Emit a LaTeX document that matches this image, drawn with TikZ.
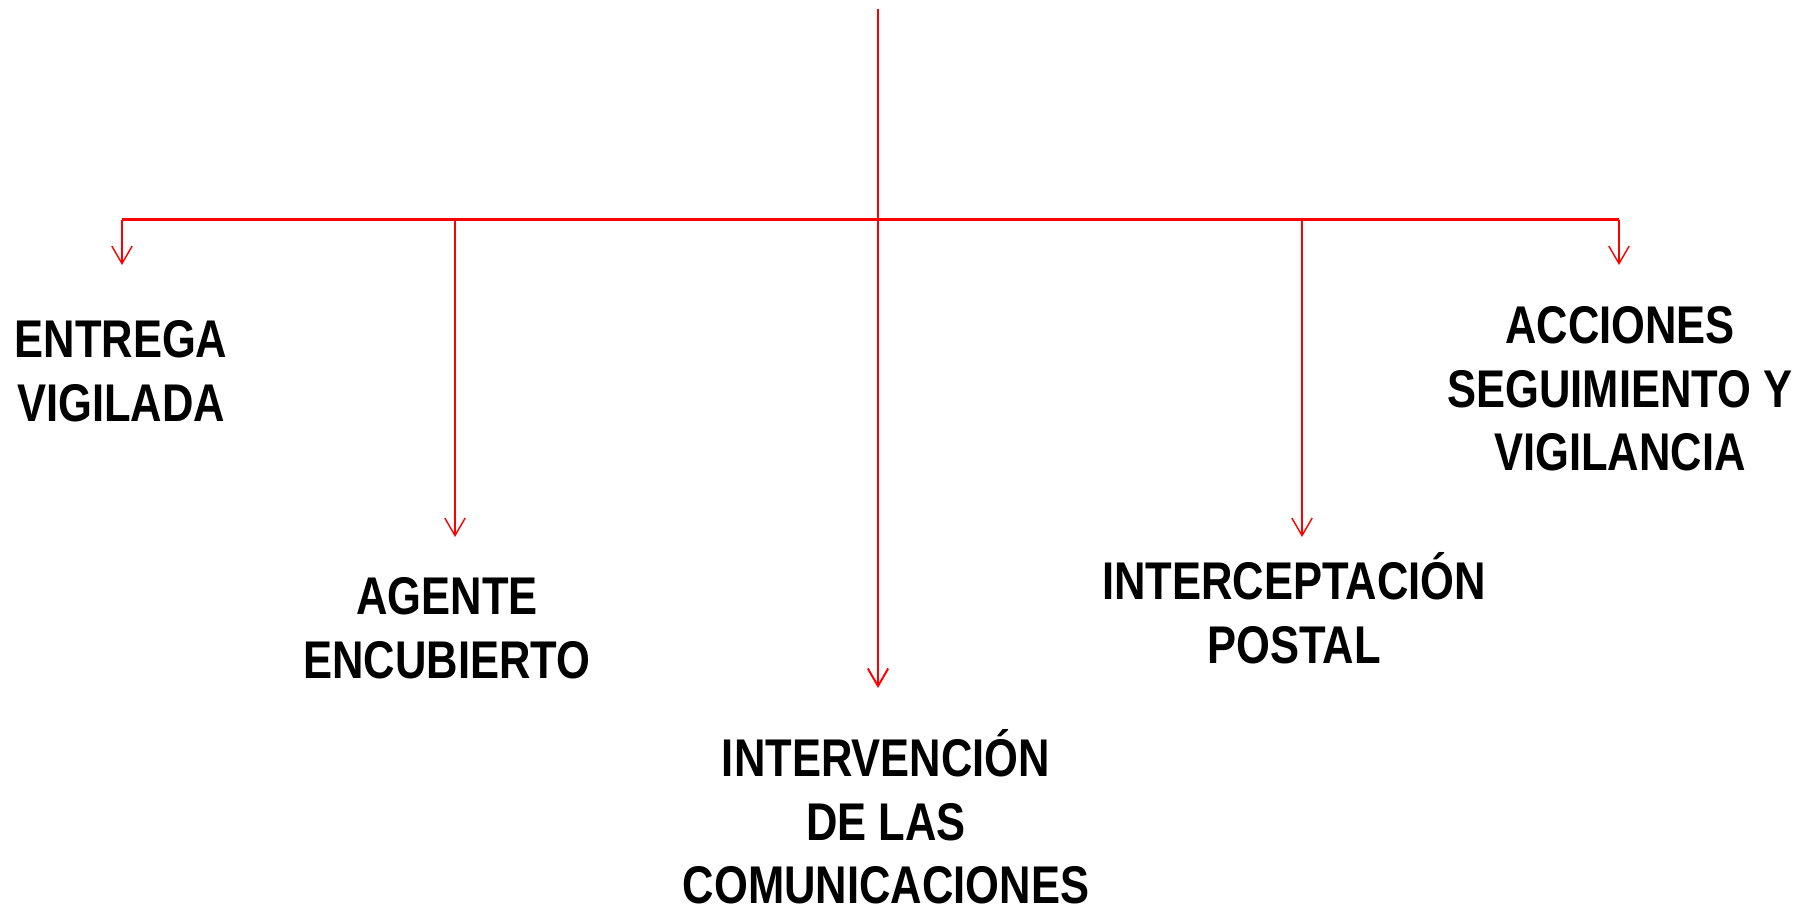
\documentclass[tikz,border=0pt]{standalone}
\usepackage{fontspec}
\setmainfont{Liberation Sans}[FakeStretch=0.82]
\usepackage{tikz}
\usetikzlibrary{arrows.meta}

\begin{document}
\begin{tikzpicture}[
  txt/.style={anchor=north, align=center, inner sep=0pt, font={\fontsize{15.1pt}{18.1pt}\selectfont\bfseries}},
  flecha/.style={draw=red, line width=0.4pt, -{Straight Barb[length=5pt,width=5.8pt]}}]
\useasboundingbox (0,0) rectangle (18.13,9.13);
\coordinate (top) at (8.78,9.04);
\coordinate (cruce) at (8.78,6.93);
\coordinate (izq) at (1.22,6.93);
\coordinate (der) at (16.19,6.93);
\coordinate (b1) at (4.55,6.93);
\coordinate (b2) at (13.02,6.93);
\coordinate (p0) at (1.22,6.48);
\coordinate (p1) at (4.55,3.76);
\coordinate (p2) at (8.78,2.25);
\coordinate (p3) at (13.02,3.76);
\coordinate (p4) at (16.19,6.48);

\node[txt] (entrega) at (1.21,5.93) {ENTREGA\\VIGILADA};
\node[txt] (agente) at (4.47,3.36) {AGENTE\\ENCUBIERTO};
\node[txt] (interv) at (8.86,1.84) {INTERVENCIÓN\\DE LAS\\COMUNICACIONES};
\node[txt] (postal) at (12.94,3.61) {INTERCEPTACIÓN\\POSTAL};
\node[txt] (acciones) at (16.20,6.07) {ACCIONES\\SEGUIMIENTO Y\\VIGILANCIA};

\draw[red, line width=0.85pt] (izq) -- (der);
\draw[flecha, line width=0.55pt] (top) -- (p2);
\draw[flecha] (izq) -- (p0);
\draw[flecha] (b1) -- (p1);
\draw[flecha] (b2) -- (p3);
\draw[flecha] (der) -- (p4);
\end{tikzpicture}
\end{document}
